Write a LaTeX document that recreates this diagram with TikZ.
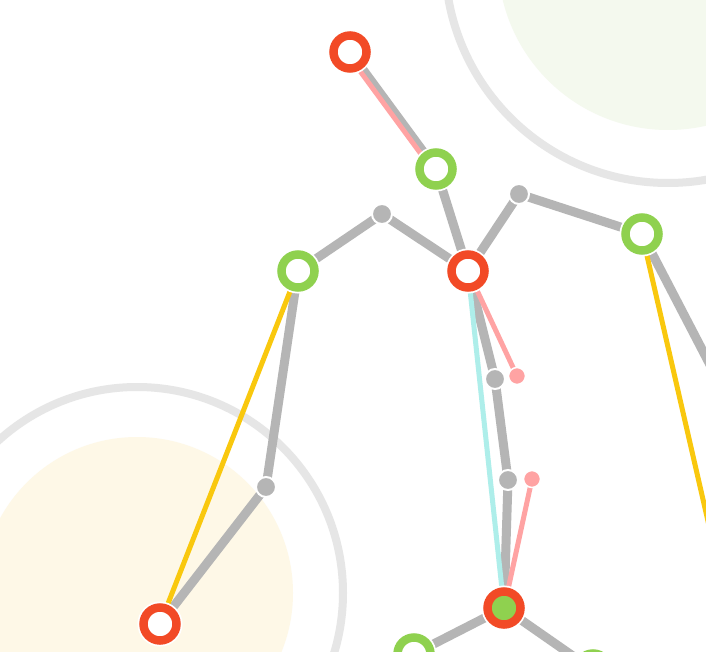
\documentclass[tikz,border=0pt]{standalone}
\usetikzlibrary{calc}
\definecolor{cred}{HTML}{F24A26}
\definecolor{cgreen}{HTML}{8FD14F}
\definecolor{cgray}{HTML}{B5B5B5}
\definecolor{cpink}{HTML}{FFA3A3}
\definecolor{ccyan}{HTML}{AEEEEA}
\definecolor{cyellow}{HTML}{F9C80E}
\definecolor{cringgray}{HTML}{E6E6E6}
\definecolor{ccream}{HTML}{FEF8E7}
\definecolor{clgreen}{HTML}{F4F9EE}
\pgfdeclarelayer{bgzero}
\pgfdeclarelayer{edges}
\pgfsetlayers{bgzero,edges,main}
\tikzset{
  ringnode/.style={circle, inner sep=0pt, minimum size=33pt, line width=8.5pt, draw=#1, fill=white,
    preaction={draw=white, line width=12pt}},
  fillring/.style={circle, inner sep=0pt, minimum size=33pt, line width=8.5pt, draw=cred, fill=cgreen,
    preaction={draw=white, line width=12pt}},
  graydot/.style={circle, inner sep=0pt, minimum size=20pt, fill=cgray, draw=white, line width=2pt},
  pinkdot/.style={circle, inner sep=0pt, minimum size=17pt, fill=cpink, draw=white, line width=1.5pt},
  bone/.style={draw=cgray, line width=9pt},
  thinpink/.style={draw=cpink, line width=5pt},
  thinyellow/.style={draw=cyellow, line width=5pt},
  thincyan/.style={draw=ccyan, line width=5pt},
  bigring/.style={draw=cringgray, line width=8pt},
}
\begin{document}
\begin{tikzpicture}[x=1pt,y=-1pt]
\useasboundingbox (0,0) rectangle (706,652);
\clip (0,0) rectangle (706,652);
\begin{pgfonlayer}{bgzero}
  \fill[white] (0,0) rectangle (706,652);
  \fill[clgreen] (668,-40) circle (170);
  \draw[bigring] (668,-40) circle (223);
  \fill[ccream] (137,593) circle (156);
  \draw[bigring] (137,593) circle (206);
\end{pgfonlayer}
% nodes
\node[ringnode=cred] (head) at (350,52) {};
\node[ringnode=cgreen] (neck) at (436,169) {};
\node[ringnode=cred] (hub) at (468,271) {};
\node[ringnode=cgreen] (lsh) at (298,271) {};
\node[graydot] (lj) at (382,214) {};
\node[graydot] (rj) at (519,194) {};
\node[ringnode=cgreen] (rsh) at (642,234) {};
\node[graydot] (s1) at (495,379) {};
\node[pinkdot] (p1) at (517,376) {};
\node[graydot] (s2) at (508,480) {};
\node[pinkdot] (p2) at (532,479) {};
\node[fillring] (base) at (504,608) {};
\node[ringnode=cgreen] (bl) at (414,654) {};
\node[ringnode=cgreen] (br) at (593,670) {};
\node[graydot] (elb) at (266,487) {};
\node[ringnode=cred] (hand) at (160,624) {};
\coordinate (offgray) at (760,461);
\coordinate (offyel) at (716,556);
\begin{pgfonlayer}{edges}
  \draw[bone] (head.center) -- (neck.center);
  \draw[thinpink] ([shift={(-2.6,1.9)}]head.center) -- ([shift={(-2.6,1.9)}]neck.center);
  \draw[bone] (neck.center) -- (hub.center);
  \draw[bone] (lsh.center) -- (lj.center) -- (hub.center);
  \draw[bone] (hub.center) -- (rj.center) -- (rsh.center);
  \draw[bone] (rsh.center) -- (offgray);
  \draw[thinyellow] (rsh.center) -- (offyel);
  \draw[bone] (lsh.center) -- (elb.center) -- (hand.center);
  \draw[thinyellow] (lsh.center) -- (hand.center);
  \draw[bone] (hub.center) -- (s1.center) -- (s2.center) -- (base.center);
  \draw[thinpink] (hub.center) -- (p1.center);
  \draw[thinpink] (p2.center) -- (base.center);
  \draw[thincyan] (hub.center) -- (base.center);
  \draw[bone] (base.center) -- (bl.center);
  \draw[bone] (base.center) -- (br.center);
\end{pgfonlayer}
\end{tikzpicture}
\end{document}
